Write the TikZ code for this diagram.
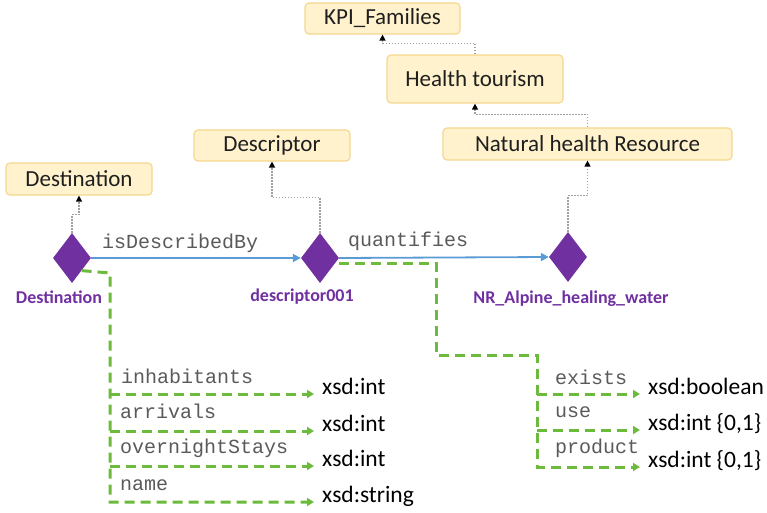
\documentclass[tikz,border=0pt]{standalone}
\usepackage{fontspec}
\setmainfont{Carlito}
\setmonofont{Liberation Mono}
\usetikzlibrary{arrows.meta,shapes.geometric}
\definecolor{boxfill}{HTML}{FFF2CC}
\definecolor{boxline}{HTML}{F5D78E}
\definecolor{purp}{HTML}{7030A0}
\definecolor{blu}{HTML}{5B9BD5}
\definecolor{grn}{HTML}{6CBB3C}
\definecolor{monoc}{HTML}{5A5A5A}
\definecolor{dotc}{HTML}{A0A0A0}
\begin{document}
\begin{tikzpicture}[x=1pt,y=-1pt,
 cls/.style={draw=boxline,fill=boxfill,rounded corners=4pt,line width=1.2pt,font=\fontsize{23}{25}\selectfont,text=black!88,inner sep=0pt},
 inst/.style={diamond,fill=purp,draw=none,minimum width=38pt,minimum height=50pt,inner sep=0pt},
 ilabel/.style={font=\bfseries\fontsize{18}{20}\selectfont,text=purp,inner sep=0pt},
 prop/.style={font=\ttfamily\fontsize{20}{22}\selectfont,text=monoc,inner sep=0pt,anchor=west},
 dtype/.style={font=\fontsize{23.5}{25}\selectfont,text=black,inner xsep=8pt,inner ysep=0pt,anchor=base west},
 rel/.style={draw=blu,line width=1.8pt,-{Triangle[length=8pt,width=8pt]}},
 isa/.style={draw=dotc,dash pattern=on 1.5pt off 1.5pt,line width=1.3pt,-{Triangle[length=6pt,width=6pt,color=black]}},
 gdash/.style={draw=grn,line width=3pt,dash pattern=on 10pt off 6pt},
 gprop/.style={gdash,-{Triangle[length=7pt,width=8pt]}}
]
\useasboundingbox (0,0) rectangle (767,513);

% classes
\node[cls,minimum width=155pt,minimum height=31pt] (bKPI) at (382.5,18.5) {KPI\_Families};
\node[cls,minimum width=176pt,minimum height=48pt] (bHT) at (475,79) {Health tourism};
\node[cls,minimum width=289pt,minimum height=32pt] (bNHR) at (587.5,144) {Natural health Resource};
\node[cls,minimum width=156pt,minimum height=31pt] (bDesc) at (272,145.5) {Descriptor};
\node[cls,minimum width=146pt,minimum height=32pt] (bDest) at (79,179) {Destination};

% instances
\node[inst] (dDest) at (72,258) {};
\node[inst] (dDesc) at (320,258) {};
\node[inst] (dNR) at (568,257) {};
\node[ilabel] (lDest) at (59,297) {Destination};
\node[ilabel] (lDesc) at (302,297) {descriptor001};
\node[ilabel] (lNR) at (571,299) {NR\_Alpine\_healing\_water};

% type links
\draw[isa] (dDest.north) -- ++(0,-18) -| (bDest.south);
\draw[isa] (dDesc.north) -- ++(0,-35) -| (bDesc.south);
\draw[isa] (dNR.north) -- ++(0,-36) -| (bNHR.south);
\draw[isa] (bNHR.north) -- ++(0,-13) -| (bHT.south);
\draw[isa] (bHT.north) -- ++(0,-11) -| (bKPI.south);

% object properties
\draw[rel] (dDest.east) -- (dDesc.west);
\draw[rel] (dDesc.east) -- (dNR.west);
\node[prop] (pDescBy) at (102,243) {isDescribedBy};
\node[prop] (pQuant) at (348,241) {quantifies};

% datatype targets
\node[dtype] (xInh) at (314,394) {xsd:int};
\node[dtype] (xArr) at (314,431) {xsd:int};
\node[dtype] (xOvn) at (314,466) {xsd:int};
\node[dtype] (xName) at (314,502) {xsd:string};
\node[dtype] (xEx) at (640,394) {xsd:boolean};
\node[dtype] (xUse) at (640,430) {xsd:int \{0,1\}};
\node[dtype] (xProd) at (640,467) {xsd:int \{0,1\}};

% datatype property labels
\node[prop] (pInh) at (121,376) {inhabitants};
\node[prop] (pArr) at (120,411) {arrivals};
\node[prop] (pOvn) at (120,448) {overnightStays};
\node[prop] (pName) at (120,485) {name};
\node[prop] (pEx) at (555,377) {exists};
\node[prop] (pUse) at (555,412) {use};
\node[prop] (pProd) at (555,448) {product};

% Destination datatype properties
\coordinate (vD) at (110,273);
\draw[gprop] (dDest.south east) -- (vD) |- (xName.base west);
\draw[gprop] (vD |- xInh.base west) -- (xInh.base west);
\draw[gprop] (vD |- xArr.base west) -- (xArr.base west);
\draw[gprop] (vD |- xOvn.base west) -- (xOvn.base west);

% descriptor datatype properties
\coordinate (k1) at (436,355);
\coordinate (k2) at (537,355);
\draw[gprop] ([yshift=-5pt]dDesc.east) -| (k1) -- (k2) |- (xProd.base west);
\draw[gprop] (k2 |- xEx.base west) -- (xEx.base west);
\draw[gprop] (k2 |- xUse.base west) -- (xUse.base west);
\end{tikzpicture}
\end{document}
